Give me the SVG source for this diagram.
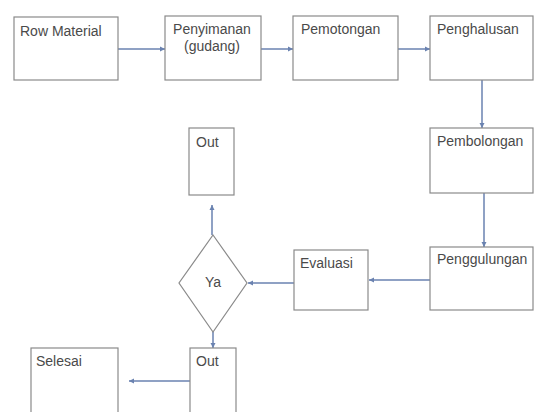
<svg xmlns="http://www.w3.org/2000/svg" width="541" height="412" viewBox="0 0 541 412">
<style>
.box{fill:#fff;stroke:#8a8a8a;stroke-width:1.2}
.t{font-family:"Liberation Sans",Arial,sans-serif;font-size:14px;fill:#4a4a4a}
.c{stroke:#6a82b0;stroke-width:1.5;fill:none;marker-end:url(#ah)}
</style>
<defs>
<marker id="ah" markerWidth="6" markerHeight="6" refX="5" refY="3" orient="auto" markerUnits="userSpaceOnUse">
<path d="M0,0.5 L5,3 L0,5.5 z" fill="#6a82b0"/>
</marker>
</defs>
<rect width="541" height="412" fill="#fff"/>
<g id="connectors">
<line class="c" x1="118" y1="49" x2="165" y2="49"/>
<line class="c" x1="261" y1="49" x2="293" y2="49"/>
<line class="c" x1="398" y1="49" x2="430" y2="49"/>
<line class="c" x1="482" y1="80" x2="482" y2="128"/>
<line class="c" x1="484" y1="193" x2="484" y2="247"/>
<line class="c" x1="430" y1="280" x2="369" y2="280"/>
<line class="c" x1="294" y1="283" x2="248" y2="283"/>
<line class="c" x1="212" y1="235" x2="212" y2="205"/>
<line class="c" x1="213" y1="332" x2="213" y2="348"/>
<line class="c" x1="190" y1="381" x2="129" y2="381"/>
</g>
<g id="n-row"><rect class="box" x="14" y="17" width="104" height="63"/><text class="t" x="20" y="36">Row Material</text></g>
<g id="n-penyimanan"><rect class="box" x="165" y="16" width="96" height="64"/><text class="t" x="212" y="34" text-anchor="middle">Penyimanan</text><text class="t" x="212" y="51" text-anchor="middle">(gudang)</text></g>
<g id="n-pemotongan"><rect class="box" x="293" y="16" width="105" height="64"/><text class="t" x="301" y="34">Pemotongan</text></g>
<g id="n-penghalusan"><rect class="box" x="430" y="16" width="103" height="64"/><text class="t" x="437" y="34">Penghalusan</text></g>
<g id="n-pembolongan"><rect class="box" x="430" y="128" width="103" height="65"/><text class="t" x="437" y="146">Pembolongan</text></g>
<g id="n-penggulungan"><rect class="box" x="430" y="247" width="103" height="63"/><text class="t" x="437" y="264">Penggulungan</text></g>
<g id="n-evaluasi"><rect class="box" x="294" y="250" width="74" height="60"/><text class="t" x="300" y="268">Evaluasi</text></g>
<g id="n-ya"><path class="box" d="M213,235 L247,283 L213,332 L179,283 Z"/><text class="t" x="213" y="287" text-anchor="middle" font-size="10">Ya</text></g>
<g id="n-out1"><rect class="box" x="189" y="128" width="45" height="67"/><text class="t" x="196" y="147">Out</text></g>
<g id="n-out2"><rect class="box" x="190" y="348" width="46" height="70"/><text class="t" x="196" y="366">Out</text></g>
<g id="n-selesai"><rect class="box" x="31" y="348" width="87" height="70"/><text class="t" x="36" y="366">Selesai</text></g>
</svg>
